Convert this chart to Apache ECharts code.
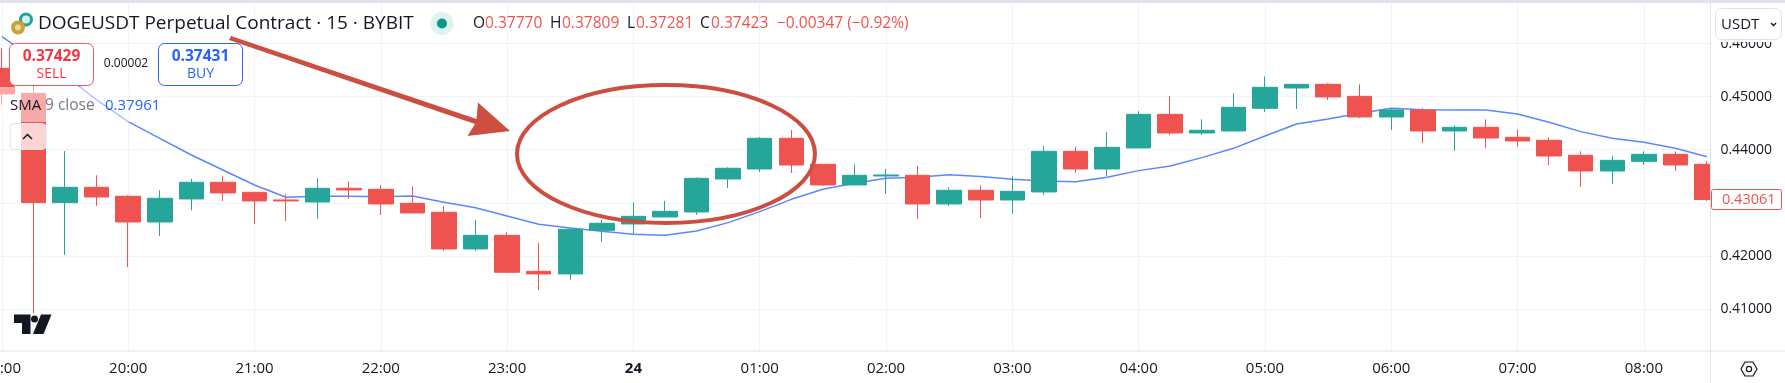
<!DOCTYPE html>
<html>
<head>
<meta charset="utf-8">
<style>html,body{margin:0;padding:0;background:#fff}#c{width:1785px;height:383px}</style>
<script src="https://cdn.jsdelivr.net/npm/echarts@6/dist/echarts.min.js"></script>
</head>
<body>
<div id="c"></div>
<script>
const minutes15 = 15;
const opens = [.45534,.45063,.43003,.43292,.43122,.42638,.43072,.43386,.43197,.43053,.43015,.43273,.43254,.4299,.42821,.4213,.42387,.41709,.41659,.42481,.42601,.42733,.42827,.43449,.43637,.44215,.43725,.43336,.43505,.43518,.42978,.43235,.43053,.43204,.4397,.43637,.44033,.44667,.44315,.44353,.4478,.45163,.45232,.45006,.44617,.44749,.44353,.44422,.44234,.44177,.43895,.43599,.43781,.43913,.43725];
const closes = [.4505,.43003,.43292,.43109,.42638,.43084,.43386,.43185,.43034,.43034,.43273,.43241,.42978,.42808,.4213,.42387,.4169,.41659,.425,.42613,.42745,.42839,.43461,.4365,.44215,.43712,.43336,.43518,.43524,.42978,.43235,.43053,.43216,.4397,.43637,.44045,.44667,.44315,.44366,.44799,.45176,.45232,.44994,.44617,.44749,.44353,.44422,.44221,.44165,.43882,.43599,.438,.43913,.43712,.43061];
const lows = [.44843,.40917,.42017,.4294,.4179,.42375,.42858,.43034,.42601,.42657,.42695,.43072,.4277,.42808,.42092,.42092,.4169,.41357,.41545,.42262,.42406,.42733,.4277,.43279,.4358,.43562,.43317,.43336,.43166,.42695,.4294,.42714,.42789,.43147,.43562,.43505,.44033,.44278,.44278,.44353,.44711,.44768,.44937,.44598,.44372,.44127,.43976,.44033,.44052,.43712,.43298,.43354,.43712,.43599,.43034];
const highs = [.45911,.45201,.43976,.43518,.43141,.43235,.43449,.43499,.43197,.4316,.43461,.43405,.43329,.4331,.42934,.42676,.42444,.42243,.42519,.42676,.43009,.43034,.4348,.43668,.4424,.44372,.43725,.43725,.43637,.43694,.43292,.43329,.43499,.4407,.44052,.44334,.44724,.45013,.44573,.45063,.45383,.45232,.45251,.45232,.44786,.44786,.4446,.44573,.44384,.44234,.4397,.43882,.4397,.4397,.43781];
const smaValues = [.46131,.45722,.45408,.44937,.44529,.44215,.43901,.43618,.43336,.43103,.43122,.43122,.43116,.43128,.43009,.42908,.42751,.42594,.42525,.42462,.42406,.42387,.42469,.42626,.42833,.43065,.43254,.43367,.43461,.4348,.4353,.43493,.43442,.43411,.43398,.4348,.43606,.43694,.43851,.44026,.44259,.44485,.44579,.44686,.4478,.44755,.44749,.44749,.44673,.44516,.44341,.44215,.4414,.44026,.43869];
const timeTicks = ['19:00','20:00','21:00','22:00','23:00','24','01:00','02:00','03:00','04:00','05:00','06:00','07:00','08:00'];
const priceTicks = [0.41,0.42,0.43,0.44,0.45,0.46];
const lastPrice = '0.43061';

const UP = '#26a69a', DOWN = '#ef5350', TXT = '#131722', GRID = '#f0f3fa', EDGE = '#e0e3eb', BLUE = '#2962ff', MARK = '#cc4e40';
const FONT = '"Open Sans","Noto Sans",sans-serif';
const xOf = i => i * minutes15;
const txt = (x, y, text, extra) => ({type:'text', z:120, x, y, style:Object.assign({text, font:'14px '+FONT, fill:TXT, verticalAlign:'middle'}, extra||{})});
const box = (x, y, w, h, r, fill, stroke, z) => ({type:'rect', z:z||110, shape:{x,y,width:w,height:h,r}, style:{fill, stroke, lineWidth:stroke?1:0}});
const HEAD = '15.5px '+FONT;
const Y_MIN = 0.40207, Y_MAX = 0.46759;

const chart = echarts.init(document.getElementById('c'), null, {renderer:'canvas'});
chart.setOption({
  animation:false,
  backgroundColor:'#ffffff',
  grid:{left:0, right:74.6, top:3.3, bottom:32, outerBoundsMode:'none'},
  xAxis:{
    type:'value', min:-0.9, max:811.6,
    axisLine:{show:false}, axisTick:{show:false, customValues:timeTicks.map((t,i)=>i*60)},
    splitLine:{show:true, lineStyle:{color:GRID, width:1}},
    axisLabel:{
      customValues:timeTicks.map((t,i)=>i*60), margin:10, fontSize:15, fontFamily:FONT, color:TXT,
      formatter:v=>{const t=timeTicks[Math.round(v/60)];return t==='24'?'{b|24}':t;},
      rich:{b:{fontWeight:'bold',fontSize:15,fontFamily:FONT,color:TXT}}
    }
  },
  yAxis:[
    {
      type:'value', position:'right', min:Y_MIN, max:Y_MAX, scale:true,
      axisLine:{show:false}, axisTick:{show:false, customValues:priceTicks}, axisLabel:{show:false},
      splitLine:{show:true, lineStyle:{color:GRID, width:1}}
    },
    {
      type:'value', position:'right', min:Y_MIN, max:Y_MAX, scale:true, z:109,
      axisLine:{show:false}, axisTick:{show:false, customValues:priceTicks}, splitLine:{show:false},
      axisLabel:{customValues:priceTicks, margin:10, fontSize:14, fontFamily:FONT, color:TXT, formatter:v=>v.toFixed(5)}
    }
  ],
  series:[
    {type:'line', z:1, data:smaValues.map((v,i)=>[xOf(i),v]), showSymbol:false, symbol:'none', smooth:false,
     lineStyle:{color:'#5b86ff', width:1.5}, silent:true},
    {type:'candlestick', z:2, barWidth:25, data:opens.map((o,i)=>[xOf(i),o,closes[i],lows[i],highs[i]]),
     itemStyle:{color:UP,color0:DOWN,borderColor:UP,borderColor0:DOWN,borderWidth:1}, silent:true}
  ],
  graphic:{elements:[
    box(1711,3,74,348,0,'#ffffff',null,104),
    box(0,0,1785,3,0,EDGE),
    {type:'line', z:105, shape:{x1:0,y1:351,x2:1785,y2:351}, style:{stroke:EDGE,lineWidth:1}},
    {type:'line', z:105, shape:{x1:1710.5,y1:3,x2:1710.5,y2:383}, style:{stroke:EDGE,lineWidth:1}},
    box(1711,3,74,39,0,'#ffffff'),
    box(1715.5,8.5,66,31,6,'#ffffff',EDGE,111),
    txt(1721,24.5,'USDT',{font:'15px '+FONT}),
    {type:'polyline', z:120, shape:{points:[[1771,23],[1773.5,25.5],[1776,23]]}, style:{stroke:TXT,lineWidth:1.4,fill:null}},
    box(1711.5,189.5,70,20,2,'#ffffff',DOWN,111),
    txt(1722,200,lastPrice,{fill:DOWN,font:'14.5px '+FONT}),
    {type:'polygon', z:120, shape:{points:[[1741,369],[1745,362],[1753,362],[1757,369],[1753,376],[1745,376]]}, style:{fill:'none',stroke:TXT,lineWidth:1.2}},
    {type:'circle', z:120, shape:{cx:1749,cy:369,r:2.6}, style:{fill:'none',stroke:TXT,lineWidth:1.2}},
    {type:'circle', z:120, shape:{cx:26,cy:19.5,r:5.5}, style:{fill:'#d7efec',stroke:'#1ea59a',lineWidth:3}},
    {type:'circle', z:121, shape:{cx:18,cy:27.5,r:7}, style:{fill:'#c6a536'}},
    {type:'circle', z:122, shape:{cx:18,cy:27.5,r:3}, style:{fill:'#e5d9a0'}},
    txt(38,24,'DOGEUSDT Perpetual Contract · 15 · BYBIT',{font:'19px '+FONT}),
    {type:'circle', z:120, shape:{cx:442,cy:23.5,r:11.5}, style:{fill:'#dff2ef'}},
    {type:'circle', z:121, shape:{cx:442,cy:23.5,r:5}, style:{fill:'#089981'}},
    txt(473,24,'O',{font:HEAD}), txt(485,24,'0.37770',{fill:DOWN,font:HEAD}),
    txt(550,24,'H',{font:HEAD}), txt(562,24,'0.37809',{fill:DOWN,font:HEAD}),
    txt(627,24,'L',{font:HEAD}), txt(636,24,'0.37281',{fill:DOWN,font:HEAD}),
    txt(700,24,'C',{font:HEAD}), txt(711,24,'0.37423',{fill:DOWN,font:HEAD}),
    txt(777,24,'−0.00347 (−0.92%)',{fill:DOWN,font:HEAD}),
    box(0,87,165,35,0,'rgba(255,255,255,0.5)',null,108),
    box(10,123.5,36,26,4,'rgba(255,255,255,0.75)',EDGE,108),
    {type:'polyline', z:120, shape:{points:[[23,139],[27.5,134.5],[32,139]]}, style:{stroke:TXT,lineWidth:1.5,fill:null}},
    box(9.5,43.5,84,42,6,'#ffffff','#f7525f',111),
    box(158.5,43.5,84,42,6,'#ffffff',BLUE,111),
    txt(51.5,57,'0.37429',{fill:'#f23645',font:'bold 15.5px '+FONT,align:'center'}),
    txt(51.5,74.5,'SELL',{fill:'#f23645',font:'14px '+FONT,align:'center'}),
    txt(200.5,57,'0.37431',{fill:BLUE,font:'bold 15.5px '+FONT,align:'center'}),
    txt(200.5,74.5,'BUY',{fill:BLUE,font:'14px '+FONT,align:'center'}),
    txt(126,64,'0.00002',{font:'12px '+FONT,align:'center'}),
    txt(10,106,'SMA',{font:'15px '+FONT}),
    txt(45,106,'9 close',{font:'15.5px '+FONT,fill:'#787b86'}),
    txt(105,106,'0.37961',{font:'15px '+FONT,fill:BLUE}),
    {type:'polygon', z:120, shape:{points:[[14,314.5],[30.5,314.5],[30.5,334],[22,334],[22,323],[14,323]]}, style:{fill:TXT}},
    {type:'circle', z:120, shape:{cx:34.5,cy:319,r:3.5}, style:{fill:TXT}},
    {type:'polygon', z:120, shape:{points:[[41,314.5],[51.5,314.5],[43.5,334],[33,334]]}, style:{fill:TXT}},
    {type:'ellipse', z:130, shape:{cx:666,cy:154,rx:149,ry:69}, style:{fill:'none',stroke:MARK,lineWidth:4}},
    {type:'polygon', z:130, shape:{points:[[231,36],[229,40],[475,124],[467.5,136],[510,131],[478,102.5],[476.5,119]]}, style:{fill:MARK}}
  ]}
});
</script>
</body>
</html>
